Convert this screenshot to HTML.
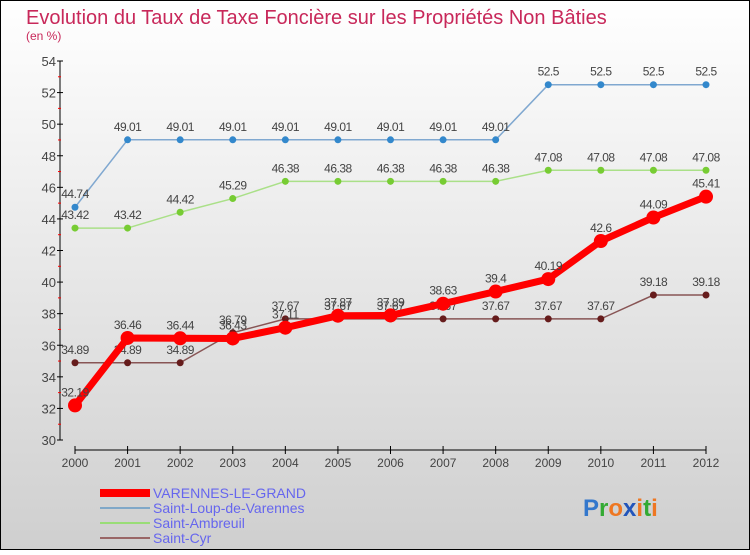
<!DOCTYPE html>
<html><head><meta charset="utf-8"><style>
body{margin:0}
#c{width:750px;height:550px;position:relative;font-family:"Liberation Sans",sans-serif}
</style></head><body>
<div id="c">
<svg id="s" width="750" height="550" xmlns="http://www.w3.org/2000/svg">
<defs><linearGradient id="bg" x1="0" y1="0" x2="0" y2="1"><stop offset="0" stop-color="#ffffff"/><stop offset="1" stop-color="#cfcfcf"/></linearGradient></defs>
<rect x="0.5" y="0.5" width="749" height="549" fill="url(#bg)" stroke="#000"/>
<text x="26" y="24" font-size="20" fill="#c8285a">Evolution du Taux de Taxe Foncière sur les Propriétés Non Bâties</text>
<text x="26" y="40" font-size="12" fill="#c8285a">(en %)</text>
<g id="axes"></g><g id="series"></g>
<g>
<rect x="100" y="489" width="50" height="8" fill="#f00"/>
<text x="153" y="498" font-size="14" fill="#6666ee">VARENNES-LE-GRAND</text>
<rect x="100" y="507" width="50" height="2" fill="#80a8c8"/>
<text x="153" y="513" font-size="14" fill="#6666ee">Saint-Loup-de-Varennes</text>
<rect x="100" y="522" width="50" height="2" fill="#99dd77"/>
<text x="153" y="528" font-size="14" fill="#6666ee">Saint-Ambreuil</text>
<rect x="100" y="537" width="50" height="2" fill="#996666"/>
<text x="153" y="543" font-size="14" fill="#6666ee">Saint-Cyr</text>
</g>
<g font-size="24" font-weight="bold">
<text x="583" y="516"><tspan fill="#3377cc">P</tspan><tspan fill="#33aa33">r</tspan><tspan fill="#ee7722">o</tspan><tspan fill="#2255bb">x</tspan><tspan fill="#ee7722">i</tspan><tspan fill="#33aa33">t</tspan><tspan fill="#ee7722">i</tspan></text>
</g>
</svg></div>
<script>
const years=[2000,2001,2002,2003,2004,2005,2006,2007,2008,2009,2010,2011,2012];
const yTicks=[30,32,34,36,38,40,42,44,46,48,50,52,54];
const varennes=[32.19,36.46,36.44,36.43,37.11,37.87,37.89,38.63,39.4,40.19,42.6,44.09,45.41];
const saintLoup=[44.74,49.01,49.01,49.01,49.01,49.01,49.01,49.01,49.01,52.5,52.5,52.5,52.5];
const saintAmbreuil=[43.42,43.42,44.42,45.29,46.38,46.38,46.38,46.38,46.38,47.08,47.08,47.08,47.08];
const saintCyr=[34.89,34.89,34.89,36.79,37.67,37.67,37.67,37.67,37.67,37.67,37.67,39.18,39.18];
const NS="http://www.w3.org/2000/svg";
const xS=i=>75+i*(631/(years.length-1));
const yS=v=>440-(v-30)*(379/24);
function mk(t,a,p){const e=document.createElementNS(NS,t);for(const k in a)e.setAttribute(k,a[k]);p.appendChild(e);return e;}
const ax=document.getElementById('axes');
let yl=mk('line',{x1:60,y1:yS(54),x2:60,y2:yS(30),stroke:'#000'},ax);


yTicks.forEach(v=>{
 mk('line',{x1:57,y1:yS(v),x2:63,y2:yS(v),stroke:'#000'},ax);
 if(v<54) mk('line',{x1:58,y1:yS(v+1),x2:61,y2:yS(v+1),stroke:'#f00'},ax);
 const t=mk('text',{x:56,y:yS(v)+5,'font-size':13,fill:'#444','text-anchor':'end'},ax);t.textContent=v;
 
 
});
let xl=mk('line',{x1:75,y1:450,x2:706,y2:450,stroke:'#000'},ax);


years.forEach((y,i)=>{
 mk('line',{x1:xS(i),y1:446,x2:xS(i),y2:454,stroke:'#000'},ax);
 const t=mk('text',{x:xS(i),y:467,'font-size':12,fill:'#444','text-anchor':'middle'},ax);t.textContent=y;
 
 
});
const sg=document.getElementById('series');
function series(d,name,col,dot,w,r){
 const g=mk('g',{},sg);
 
 
 mk('polyline',{points:d.map((v,i)=>xS(i)+','+yS(v)).join(' '),fill:'none',stroke:col,'stroke-width':w,'stroke-linejoin':'round'},g);
 d.forEach((v,i)=>{
  const c=mk('circle',{cx:xS(i),cy:yS(v),r:r,fill:dot},g);
  
  
  const t=mk('text',{x:xS(i),y:yS(v)-9,'font-size':12,fill:'#444','text-anchor':'middle','letter-spacing':'-0.5'},g);t.textContent=v;
  
  
 });
}
series(saintLoup,'saint-loup','#80a8d0','#3388cc',1.5,3.5);
series(saintAmbreuil,'saint-ambreuil','#aae088','#77cc33',1.5,3.5);
series(saintCyr,'saint-cyr','#885555','#661c1c',1.5,3.5);
series(varennes,'varennes','#f00','#f00',7,7);
</script>
</body></html>
